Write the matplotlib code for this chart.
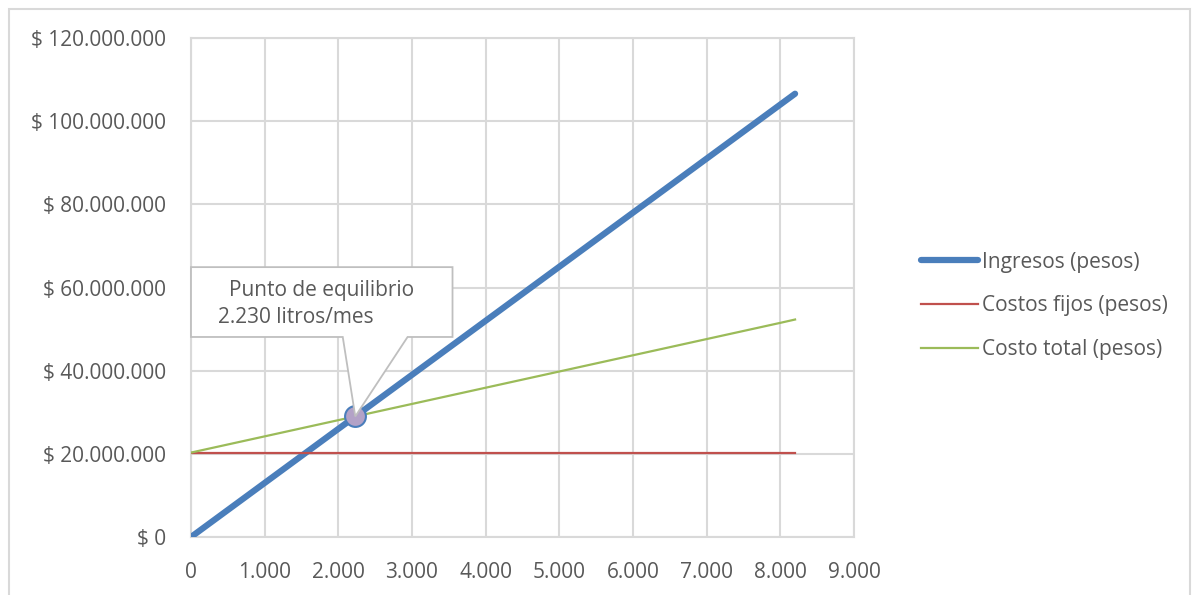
import matplotlib
matplotlib.use("Agg")
import matplotlib.pyplot as plt
from matplotlib.patches import Polygon, Rectangle
from matplotlib.ticker import FuncFormatter, MultipleLocator

plt.rcParams['font.family'] = ['Open Sans', 'DejaVu Sans']

# Data (liters per month vs. pesos)
litros = [0, 1000, 2000, 3000, 4000, 5000, 6000, 7000, 8000, 8200]
ingresos = [0, 13.0e6, 26.0e6, 39.0e6, 52.0e6, 65.0e6, 78.0e6, 91.0e6, 104.0e6, 106.6e6]
costos_fijos = [20.3e6] * 10
costo_total = [20.3e6, 24.2e6, 28.1e6, 32.0e6, 35.9e6, 39.8e6, 43.7e6, 47.6e6, 51.5e6, 52.3e6]
equilibrio_x = 2230
equilibrio_y = 29.0e6
series_labels = ["Ingresos (pesos)", "Costos fijos (pesos)", "Costo total (pesos)"]
annot_lines = ["Punto de equilibrio", "2.230 litros/mes"]

W, H = 1195, 595
fig = plt.figure(figsize=(W / 100, H / 100), dpi=100)

# outer chart border
fig.patches.append(Rectangle((9 / W, -0.01), (1190 - 9) / W, (H - 9) / H + 0.01,
                             transform=fig.transFigure, fill=False,
                             edgecolor='#D9D9D9', linewidth=1.5))

ax = fig.add_axes([191 / W, (H - 537) / H, (854 - 191) / W, (537 - 38) / H])

grid_c = '#D9D9D9'
text_c = '#595959'
fs = 15

ax.set_xlim(0, 9000)
ax.set_ylim(0, 120e6)
ax.xaxis.set_major_locator(MultipleLocator(1000))
ax.yaxis.set_major_locator(MultipleLocator(20e6))


def fmt_thousands(v):
    return f"{int(round(v)):,}".replace(",", ".")


ax.xaxis.set_major_formatter(FuncFormatter(lambda v, p: fmt_thousands(v)))
ax.yaxis.set_major_formatter(FuncFormatter(lambda v, p: "$ " + fmt_thousands(v)))

ax.grid(True, color=grid_c, linewidth=1.5)
ax.set_axisbelow(True)
for s in ax.spines.values():
    s.set_color(grid_c)
    s.set_linewidth(1.5)
ax.tick_params(length=0, labelsize=fs, colors=text_c)
ax.tick_params(axis='y', pad=18)
ax.tick_params(axis='x', pad=18)

l1, = ax.plot(litros, ingresos, color='#4A7EBB', linewidth=4.5,
              solid_capstyle='round', zorder=3, label=series_labels[0])
l2, = ax.plot(litros, costos_fijos, color='#C0504D', linewidth=1.6,
              zorder=3, label=series_labels[1])
l3, = ax.plot(litros, costo_total, color='#9BBB59', linewidth=1.6,
              zorder=4, label=series_labels[2])

ax.plot([equilibrio_x], [equilibrio_y], marker='o', markersize=15,
        markerfacecolor='#B3A2C7', markeredgecolor='#4A7EBB',
        markeredgewidth=1.5, zorder=5, clip_on=False)

# callout box with pointer
bx0, bx1 = 0, 3550
by0, by1 = 48.1e6, 64.9e6
wx0, wx1 = 2060, 2940
verts = [(bx0, by0), (bx0, by1), (bx1, by1), (bx1, by0), (wx1, by0),
         (equilibrio_x, equilibrio_y), (wx0, by0)]
ax.add_patch(Polygon(verts, closed=True, facecolor='white', edgecolor='#BFBFBF',
                     linewidth=1.3, zorder=6, clip_on=False))
ax.text(520, 59.2e6, annot_lines[0], fontsize=fs, color=text_c,
        ha='left', va='center', zorder=7)
ax.text(370, 52.7e6, annot_lines[1], fontsize=fs, color=text_c,
        ha='left', va='center', zorder=7)

fig.legend(handles=[l1, l2, l3], labels=series_labels,
           loc='center left', bbox_to_anchor=(902 / W, (H - 306) / H),
           frameon=False, fontsize=fs, labelcolor=text_c,
           handlelength=2.75, handletextpad=0.2, labelspacing=1.1)

fig.savefig("out.png", dpi=100)
